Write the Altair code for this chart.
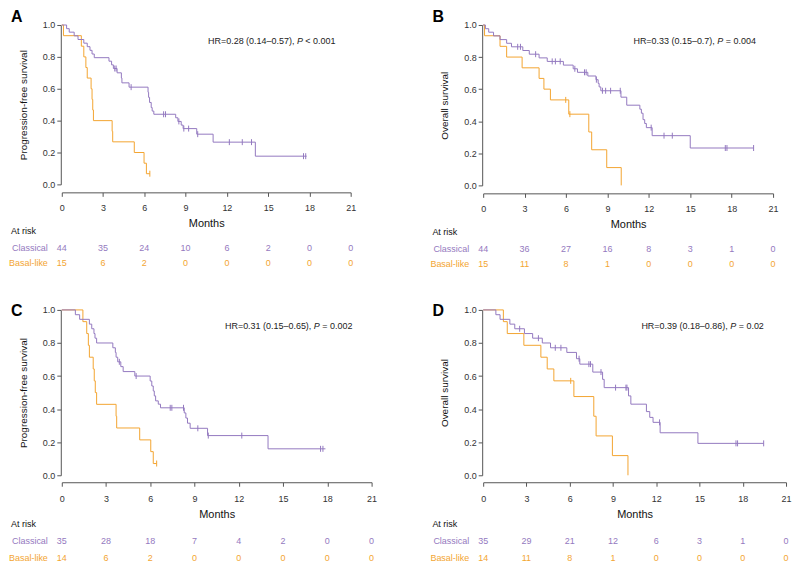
import altair as alt
import pandas as pd

PURPLE = "#9479c0"
ORANGE = "#f3a531"
FONT = "Liberation Sans"
MONTH_TICKS = [0, 3, 6, 9, 12, 15, 18, 21]
SURV_TICKS = [0.0, 0.2, 0.4, 0.6, 0.8, 1.0]

# ---------------- Panel A (PFS, cohort 1) ----------------
A_cls_t = [0, 0.35, 0.54, 0.9, 1.18, 1.6, 1.85, 2.05, 2.2, 2.36, 3.43, 3.62, 3.75, 4.02, 4.33, 4.37, 4.89,
           6.27, 6.31, 6.38, 6.5, 6.57, 6.69, 8.28, 8.44, 8.68, 8.82, 9.81, 11.0, 14.07]
A_cls_s = [1.0, 0.977, 0.955, 0.932, 0.909, 0.886, 0.864, 0.841, 0.818, 0.795, 0.773, 0.75, 0.727, 0.70, 0.667,
           0.637, 0.61, 0.578, 0.546, 0.514, 0.482, 0.46, 0.44, 0.418, 0.395, 0.372, 0.35, 0.315, 0.265, 0.177]
A_cls_cens = [3.85, 3.95, 5.04, 7.4, 7.54, 8.51, 8.87, 9.22, 9.88, 12.18, 13.12, 13.79, 17.57, 17.73]
A_cls_end = 17.8
A_bas_t = [0, 0.12, 1.42, 1.6, 1.75, 1.85, 2.13, 2.2, 2.25, 2.3, 3.66, 3.7, 5.27, 5.98, 6.15]
A_bas_s = [1.0, 0.933, 0.867, 0.80, 0.733, 0.667, 0.60, 0.533, 0.467, 0.40, 0.333, 0.267, 0.20, 0.133, 0.067]
A_bas_cens = [6.4]
A_bas_end = 6.4
A_risk_cls = [44, 35, 24, 10, 6, 2, 0, 0]
A_risk_bas = [15, 6, 2, 0, 0, 0, 0, 0]

# ---------------- Panel B (OS, cohort 1) ----------------
B_cls_t = [0, 0.16, 0.4, 0.75, 1.22, 1.7, 2.05, 2.87, 3.34, 4.05, 4.64, 5.81, 6.52, 6.83, 7.58, 8.17, 8.33, 8.4,
           8.52, 9.98, 10.4, 11.35, 11.46, 11.58, 11.7, 11.82, 12.24, 15.0]
B_cls_s = [1.0, 0.977, 0.955, 0.932, 0.909, 0.886, 0.864, 0.841, 0.818, 0.795, 0.773, 0.75, 0.727, 0.705, 0.682,
           0.659, 0.636, 0.614, 0.59, 0.55, 0.50, 0.475, 0.45, 0.41, 0.386, 0.36, 0.31, 0.233]
B_cls_cens = [2.5, 2.7, 3.8, 5.0, 5.23, 5.58, 6.64, 7.34, 7.46, 8.2, 8.64, 8.87, 9.23, 9.93, 12.17, 13.1, 13.7,
              17.54, 17.66, 19.59]
B_cls_end = 19.59
B_bas_t = [0, 0.1, 1.22, 1.7, 2.82, 4.05, 4.4, 4.87, 6.2, 7.65, 7.86, 8.95, 10.0]
B_bas_s = [1.0, 0.933, 0.867, 0.80, 0.733, 0.667, 0.60, 0.533, 0.444, 0.333, 0.222, 0.111, 0.0]
B_bas_cens = [5.98, 6.28]
B_bas_end = 10.0
B_risk_cls = [44, 36, 27, 16, 8, 3, 1, 0]
B_risk_bas = [15, 11, 8, 1, 0, 0, 0, 0]

# ---------------- Panel C (PFS, cohort 2) ----------------
C_cls_t = [0, 0.92, 1.21, 1.87, 2.03, 2.18, 2.25, 2.36, 3.46, 3.63, 3.68, 3.79, 4.0, 4.16, 4.95, 5.99, 6.1, 6.2,
           6.27, 6.36, 6.54, 6.69, 8.3, 8.41, 8.52, 8.7, 9.88, 13.98]
C_cls_s = [1.0, 0.971, 0.943, 0.914, 0.886, 0.857, 0.829, 0.80, 0.771, 0.743, 0.714, 0.686, 0.657, 0.627, 0.60,
           0.57, 0.54, 0.51, 0.48, 0.45, 0.43, 0.408, 0.377, 0.346, 0.315, 0.284, 0.24, 0.16]
C_cls_cens = [3.9, 5.04, 7.35, 7.46, 8.25, 9.22, 9.93, 12.2, 17.54, 17.7]
C_cls_end = 17.87
C_bas_t = [0, 1.43, 1.69, 1.8, 1.87, 2.13, 2.2, 2.27, 2.36, 3.68, 3.72, 5.28, 6.03, 6.2]
C_bas_s = [1.0, 0.929, 0.857, 0.786, 0.714, 0.643, 0.571, 0.50, 0.429, 0.357, 0.286, 0.214, 0.143, 0.071]
C_bas_cens = [6.43]
C_bas_end = 6.43
C_risk_cls = [35, 28, 18, 7, 4, 2, 0, 0]
C_risk_bas = [14, 6, 2, 0, 0, 0, 0, 0]

# ---------------- Panel D (OS, cohort 2) ----------------
D_cls_t = [0, 0.88, 1.17, 1.85, 2.19, 2.86, 3.43, 4.1, 4.67, 5.8, 6.47, 6.7, 7.6, 8.28, 8.39, 10.08, 10.24, 11.32,
           11.55, 11.78, 12.27, 14.89]
D_cls_s = [1.0, 0.971, 0.943, 0.914, 0.886, 0.857, 0.829, 0.80, 0.771, 0.743, 0.705, 0.672, 0.624, 0.58, 0.53,
           0.48, 0.43, 0.385, 0.35, 0.32, 0.257, 0.193]
D_cls_cens = [2.53, 3.83, 5.0, 5.39, 6.65, 7.33, 7.44, 8.17, 9.18, 9.9, 9.97, 12.23, 17.53, 17.64, 19.45]
D_cls_end = 19.45
D_bas_t = [0, 1.4, 1.67, 2.82, 4.0, 4.44, 4.9, 6.29, 7.67, 7.83, 8.96, 10.04]
D_bas_s = [1.0, 0.929, 0.857, 0.786, 0.714, 0.643, 0.571, 0.476, 0.357, 0.238, 0.119, 0.0]
D_bas_cens = [6.07]
D_bas_end = 10.04
D_risk_cls = [35, 29, 21, 12, 6, 3, 1, 0]
D_risk_bas = [14, 11, 8, 1, 0, 0, 0, 0]

HR_TEXT = {
    "A": ("HR=0.28 (0.14\u20130.57),", "< 0.001"),
    "B": ("HR=0.33 (0.15\u20130.7),", "= 0.004"),
    "C": ("HR=0.31 (0.15\u20130.65),", "= 0.002"),
    "D": ("HR=0.39 (0.18\u20130.86),", "= 0.02"),
}


def step_df(ts, ss, end):
    rows = [{"t": t, "s": s} for t, s in zip(ts, ss)]
    if end > ts[-1]:
        rows.append({"t": end, "s": ss[-1]})
    return pd.DataFrame(rows)


def cens_df(ts, ss, cens):
    rows = []
    for c in cens:
        s = ss[0]
        for t, v in zip(ts, ss):
            if t <= c:
                s = v
        rows.append({"t": c, "s": s})
    return pd.DataFrame(rows)


def one(label):
    return pd.DataFrame({"lab": [label]})


def panel(letter, ytitle, cls, bas, risk_cls, risk_bas, width, height, xoff, lpad, xP, letter_y, rows):
    xenc = alt.X("t:Q", scale=alt.Scale(domain=[0, 21], nice=False, zero=False),
                 axis=alt.Axis(values=MONTH_TICKS, offset=xoff, tickSize=4, labelPadding=lpad,
                               title="Months", titlePadding=5, titleFontSize=11, titleFontWeight="normal",
                               labelFontSize=9, labelFlush=False, grid=False))
    yenc = alt.Y("s:Q", scale=alt.Scale(domain=[0, 1], nice=False, zero=False),
                 axis=alt.Axis(values=SURV_TICKS, format=".1f", offset=1, tickSize=4, labelPadding=2,
                               title=ytitle, titlePadding=14, titleFontSize=10, titleFontWeight="normal",
                               labelFontSize=9, labelFlush=False, grid=False))
    layers = []
    for (ts, ss, cens, end), col in ((bas, ORANGE), (cls, PURPLE)):
        layers.append(alt.Chart(step_df(ts, ss, end)).mark_line(
            interpolate="step-after", color=col, strokeWidth=1).encode(x=xenc, y=yenc))
        layers.append(alt.Chart(cens_df(ts, ss, cens)).mark_point(
            shape="M0,-1L0,1", size=36, filled=False, strokeWidth=1, color=col, opacity=1
        ).encode(x=xenc, y=yenc))
    # at-risk numbers
    for vals, col, yo in ((risk_cls, PURPLE, rows[1]), (risk_bas, ORANGE, rows[2])):
        df = pd.DataFrame({"t": MONTH_TICKS, "n": vals})
        layers.append(alt.Chart(df).mark_text(fontSize=9, color=col, align="center", baseline="middle").encode(
            x=xenc, y=alt.value(height + yo), text="n:Q"))
    # row labels
    layers.append(alt.Chart(one("At risk")).mark_text(fontSize=9, color="#111", align="left",
                                                       baseline="middle").encode(
        x=alt.value(-51), y=alt.value(height + rows[0]), text="lab:N"))
    layers.append(alt.Chart(one("Classical")).mark_text(fontSize=9, color=PURPLE, align="right",
                                                         baseline="middle").encode(
        x=alt.value(-14), y=alt.value(height + rows[1]), text="lab:N"))
    layers.append(alt.Chart(one("Basal-like")).mark_text(fontSize=9, color=ORANGE, align="right",
                                                          baseline="middle").encode(
        x=alt.value(-14), y=alt.value(height + rows[2]), text="lab:N"))
    # panel letter
    layers.append(alt.Chart(one(letter)).mark_text(fontSize=16, fontWeight="bold", color="#000", align="left",
                                                    baseline="alphabetic").encode(
        x=alt.value(-51), y=alt.value(letter_y), text="lab:N"))
    # HR annotation
    part1, part3 = HR_TEXT[letter]
    layers.append(alt.Chart(one(part1)).mark_text(fontSize=9, color="#222", align="right",
                                                   baseline="middle").encode(
        x=alt.value(xP - 2.5), y=alt.value(16), text="lab:N"))
    layers.append(alt.Chart(one("P")).mark_text(fontSize=9, color="#222", align="left", fontStyle="italic",
                                                 baseline="middle").encode(
        x=alt.value(xP), y=alt.value(16), text="lab:N"))
    layers.append(alt.Chart(one(part3)).mark_text(fontSize=9, color="#222", align="left",
                                                   baseline="middle").encode(
        x=alt.value(xP + 8.5), y=alt.value(16), text="lab:N"))
    return alt.layer(*layers).properties(width=width, height=height)


ROW1 = (47, 64, 79)
ROW2 = (49, 66, 83)

pA = panel("A", "Progression-free survival", (A_cls_t, A_cls_s, A_cls_cens, A_cls_end),
           (A_bas_t, A_bas_s, A_bas_cens, A_bas_end), A_risk_cls, A_risk_bas,
           290, 160, 8, 7, 236, -3, ROW1)
pB = panel("B", "Overall survival", (B_cls_t, B_cls_s, B_cls_cens, B_cls_end),
           (B_bas_t, B_bas_s, B_bas_cens, B_bas_end), B_risk_cls, B_risk_bas,
           291, 161, 8, 7, 235, -3, ROW1)
pC = panel("C", "Progression-free survival", (C_cls_t, C_cls_s, C_cls_cens, C_cls_end),
           (C_bas_t, C_bas_s, C_bas_cens, C_bas_end), C_risk_cls, C_risk_bas,
           311, 166, 7, 8, 253, 6, ROW2)
pD = panel("D", "Overall survival", (D_cls_t, D_cls_s, D_cls_cens, D_cls_end),
           (D_bas_t, D_bas_s, D_bas_cens, D_bas_end), D_risk_cls, D_risk_bas,
           304, 166, 7, 8, 248, 6, ROW2)

chart = alt.concat(pA, pB, pC, pD, columns=2, spacing={"row": 125, "column": 112},
                   bounds="flush", align="each").properties(
    padding=0, background="white"
).configure_view(strokeWidth=0).configure_axis(
    domainColor="#555", tickColor="#555", labelColor="#333", titleColor="#111",
    labelFont=FONT, titleFont=FONT, domainWidth=1, tickWidth=1
).configure_text(font=FONT)

chart.save("out.html", embed_options={"renderer": "svg", "actions": False})
